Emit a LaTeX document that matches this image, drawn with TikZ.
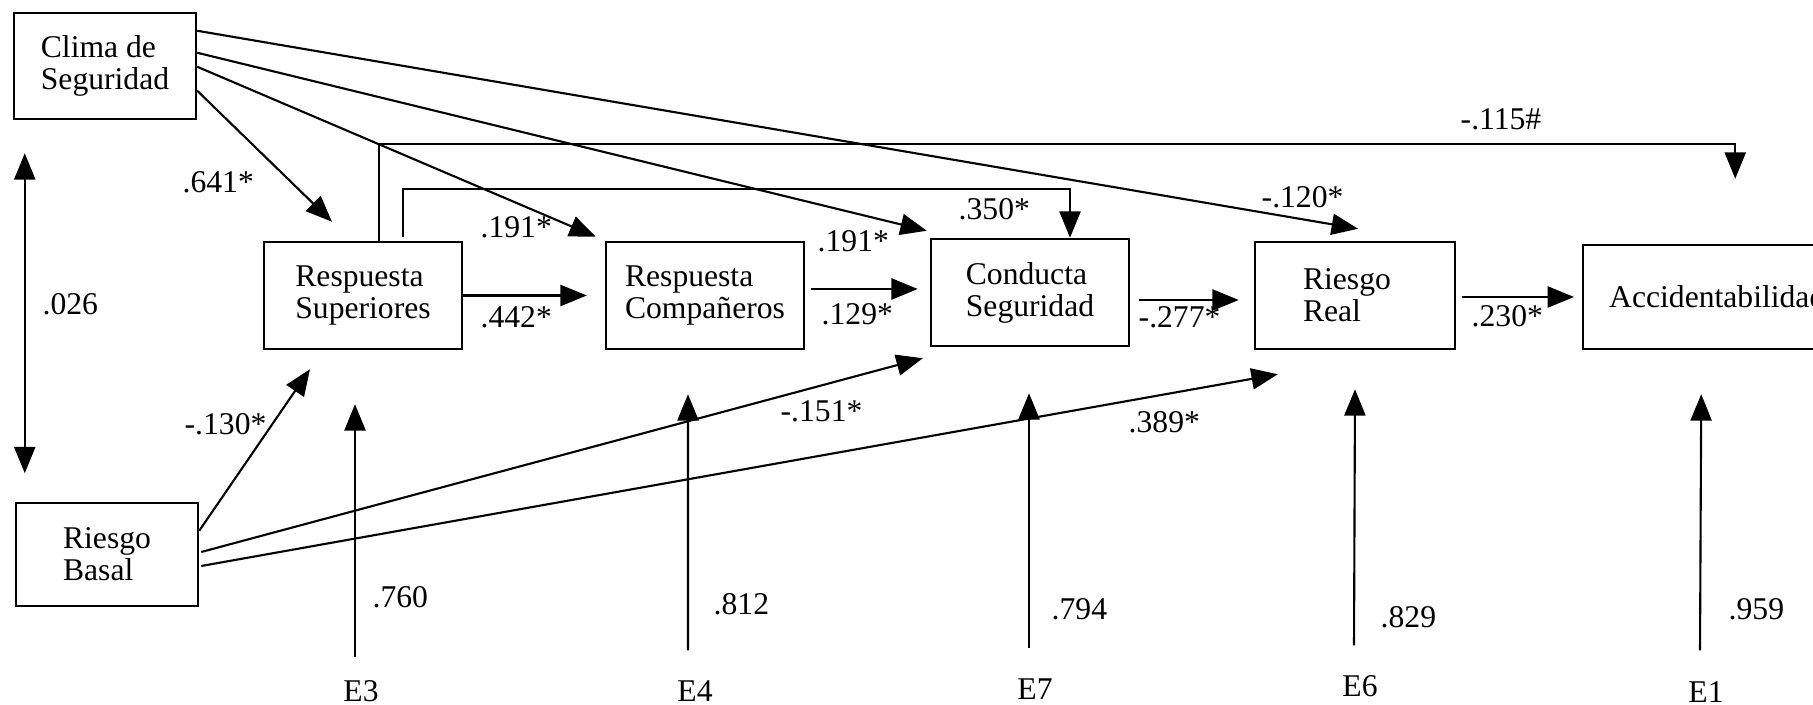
\documentclass[tikz,border=0pt]{standalone}
\usepackage{fontspec}
\setmainfont{Liberation Serif}
\usetikzlibrary{arrows.meta}
\begin{document}
\begin{tikzpicture}[font=\fontsize{9pt}{9.1pt}\selectfont,
		>={Triangle[length=7.5pt,width=6pt]},
		box/.style={draw, line width=0.7pt, align=left, minimum height=1.07cm},
		arr/.style={line width=0.6pt, ->},
		lbl/.style={inner sep=0pt, anchor=base west}]
		\useasboundingbox (0,0) rectangle (18.13,7.05);
		\node[box, minimum width=1.82cm, minimum height=1.06cm] (clima) at (1.05,6.39) {Clima de\\Seguridad};
		\node[box, minimum width=1.82cm, minimum height=1.03cm] (basal) at (1.07,1.505) {Riesgo\\Basal};
		\node[box, minimum width=1.98cm] (supe) at (3.63,4.095) {Respuesta\\Superiores};
		\node[box, minimum width=1.98cm] (comp) at (7.05,4.095) {Respuesta\\Compañeros};
		\node[box, minimum width=1.98cm] (cond) at (10.30,4.125) {Conducta\\Seguridad};
		\node[box, text width=1.04cm, inner xsep=0.48cm] (real) at (13.55,4.095) {Riesgo\\Real};
		\node[box, minimum width=2.68cm, minimum height=1.04cm, anchor=west] (acc) at (15.82,4.08) {Accidentabilidad};
		\node[lbl, anchor=base] (E3) at (3.61,0.03) {E3};
		\node[lbl, anchor=base] (E4) at (6.95,0.03) {E4};
		\node[lbl, anchor=base] (E7) at (10.35,0.05) {E7};
		\node[lbl, anchor=base] (E6) at (13.60,0.08) {E6};
		\node[lbl, anchor=base] (E1) at (17.06,0.02) {E1};
		\draw[arr, <->] ([xshift=0.12cm,yshift=-0.33cm]clima.south west) -- ++(0,-3.20);
		\draw[arr] ([yshift=-0.19cm]clima.north east) -- ([xshift=0.03cm,yshift=0.12cm]real.north);
		\draw[arr] ([yshift=-0.41cm]clima.north east) -- ([xshift=-0.03cm,yshift=0.07cm]cond.north west);
		\draw[arr] ([yshift=-0.55cm]clima.north east) -- ([xshift=-0.09cm,yshift=0.04cm]comp.north west);
		\draw[arr] ([yshift=-0.79cm]clima.north east) -- ([xshift=-0.31cm,yshift=0.19cm]supe.north);
		\draw[arr] ([yshift=-0.29cm]basal.north east) -- ([xshift=-0.53cm,yshift=-0.19cm]supe.south);
		\draw[arr] ([xshift=0.02cm,yshift=0.025cm]basal.east) -- ([xshift=-0.07cm,yshift=-0.11cm]cond.south west);
		\draw[arr] ([xshift=0.02cm,yshift=-0.115cm]basal.east) -- ([xshift=0.24cm,yshift=-0.24cm]real.south west);
		\draw[arr] ([xshift=0.16cm]supe.north) -- ++(0,0.97) -| ([xshift=0.18cm,yshift=0.65cm]acc.north);
		\draw[arr] ([xshift=0.40cm,yshift=0.04cm]supe.north) -- ++(0,0.48) -| ([xshift=0.40cm]cond.north);
		\draw[arr] (supe.east) -- ([xshift=-0.18cm]comp.west);
		\draw[arr] ([xshift=0.06cm,yshift=0.065cm]comp.east) -- ([xshift=-0.12cm,yshift=0.035cm]cond.west);
		\draw[arr] ([xshift=0.09cm,yshift=-0.075cm]cond.east) -- ([xshift=-0.15cm,yshift=-0.045cm]real.west);
		\draw[arr] ([xshift=0.06cm,yshift=-0.015cm]real.east) -- ([xshift=-0.08cm]acc.west);
		\draw[arr] ([xshift=-0.06cm,yshift=0.23cm]E3.north) -- ([xshift=-0.08cm,yshift=-0.54cm]supe.south);
		\draw[arr] ([xshift=-0.07cm,yshift=0.30cm]E4.north) -- ([xshift=-0.17cm,yshift=-0.44cm]comp.south);
		\draw[arr] ([xshift=-0.06cm,yshift=0.31cm]E7.north) -- ([xshift=-0.01cm,yshift=-0.46cm]cond.south);
		\draw[arr] ([xshift=-0.06cm,yshift=0.30cm]E6.north) -- ([yshift=-0.39cm]real.south);
		\draw[arr] ([xshift=-0.06cm,yshift=0.31cm]E1.north) -- ([xshift=-0.16cm,yshift=-0.44cm]acc.south);
		\node[lbl] (c026) at (0.42,3.90) {.026};
		\node[lbl] (c641) at (1.82,5.12) {.641*};
		\node[lbl] (c191a) at (4.80,4.67) {.191*};
		\node[lbl] (c442) at (4.80,3.77) {.442*};
		\node[lbl] (c191b) at (8.17,4.53) {.191*};
		\node[lbl] (c129) at (8.21,3.80) {.129*};
		\node[lbl] (c350) at (9.58,4.85) {.350*};
		\node[lbl] (c277) at (11.38,3.77) {-.277*};
		\node[lbl] (c120) at (12.61,4.97) {-.120*};
		\node[lbl] (c115) at (14.60,5.75) {-.115\#};
		\node[lbl] (c230) at (14.71,3.78) {.230*};
		\node[lbl] (c130) at (1.84,2.70) {-.130*};
		\node[lbl] (c151) at (7.80,2.83) {-.151*};
		\node[lbl] (c389) at (11.28,2.72) {.389*};
		\node[lbl] (c760) at (3.72,0.97) {.760};
		\node[lbl] (c812) at (7.13,0.90) {.812};
		\node[lbl] (c794) at (10.51,0.85) {.794};
		\node[lbl] (c829) at (13.80,0.77) {.829};
		\node[lbl] (c959) at (17.28,0.85) {.959};
	\end{tikzpicture}
\end{document}
